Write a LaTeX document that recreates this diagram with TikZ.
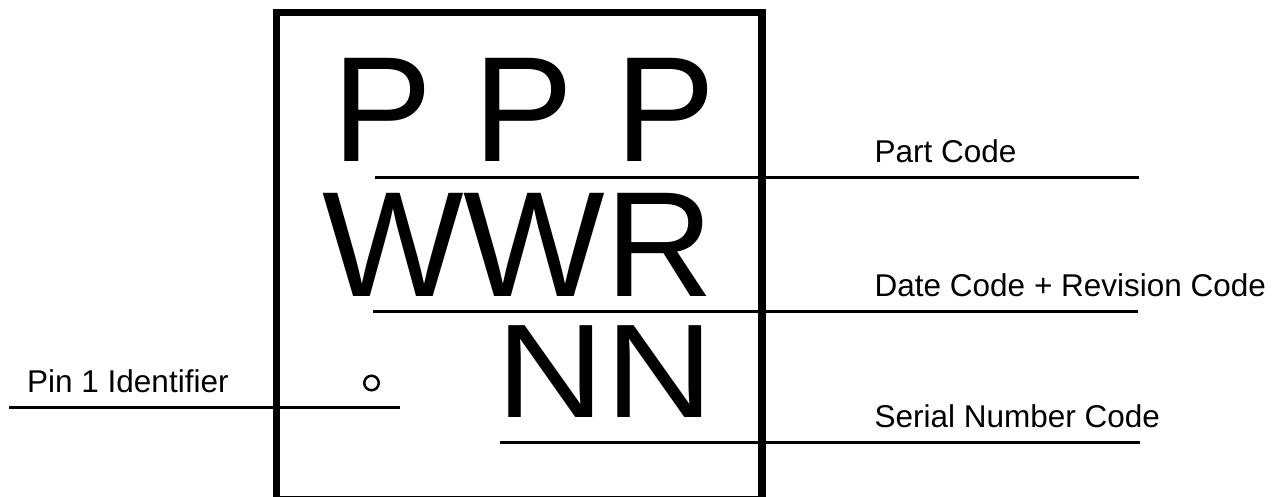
\documentclass[tikz,border=0pt]{standalone}
\usepackage{fontspec}
\setmainfont{Liberation Sans}
\begin{document}
\begin{tikzpicture}[x=1pt,y=-1pt,
  thinline/.style={line width=3pt},
  boxline/.style={line width=7.5pt},
  big/.style={anchor=base west,inner sep=0pt,text height=0.72em,text depth=0pt,font=\fontsize{150}{150}\selectfont},
  lbl/.style={anchor=base west,inner sep=0pt,font=\fontsize{31.5}{31.5}\selectfont}]
\clip (0,0) rectangle (1286,497);
% package outline (bottom edge falls at the picture's lower border)
\draw[boxline] (276.5,12.5) rectangle (762,500);
% big marking text
\node[big] (ppp) at (332,162) {P P P};
\node[big] (wwr) at (322,297) {WWR};
\node[big,text height=96pt] (nn) at (496.6,417) {\scalebox{1}[0.89]{NN}};
% pin 1 marker
\node[draw,circle,line width=2.5pt,minimum size=14.5pt,inner sep=0pt] (pin) at (371.5,383) {};
% labels
\node[lbl] (part) at (874.5,163) {Part Code};
\node[lbl] (date) at (874.5,297) {Date Code + Revision Code};
\node[lbl] (serial) at (874.5,427) {Serial Number Code};
\node[lbl] (pinl) at (27,392) {Pin 1 Identifier};
% leader lines
\coordinate (a1) at (375,178); \coordinate (a2) at (1139,178);
\coordinate (b1) at (373,312); \coordinate (b2) at (1138,312);
\coordinate (c1) at (500,442); \coordinate (c2) at (1140,442);
\coordinate (d1) at (9,407);   \coordinate (d2) at (400,407);
\draw[thinline] (a1) -- (a2);
\draw[thinline] (b1) -- (b2);
\draw[thinline] (c1) -- (c2);
\draw[thinline] (d1) -- (d2);
\end{tikzpicture}
\end{document}
